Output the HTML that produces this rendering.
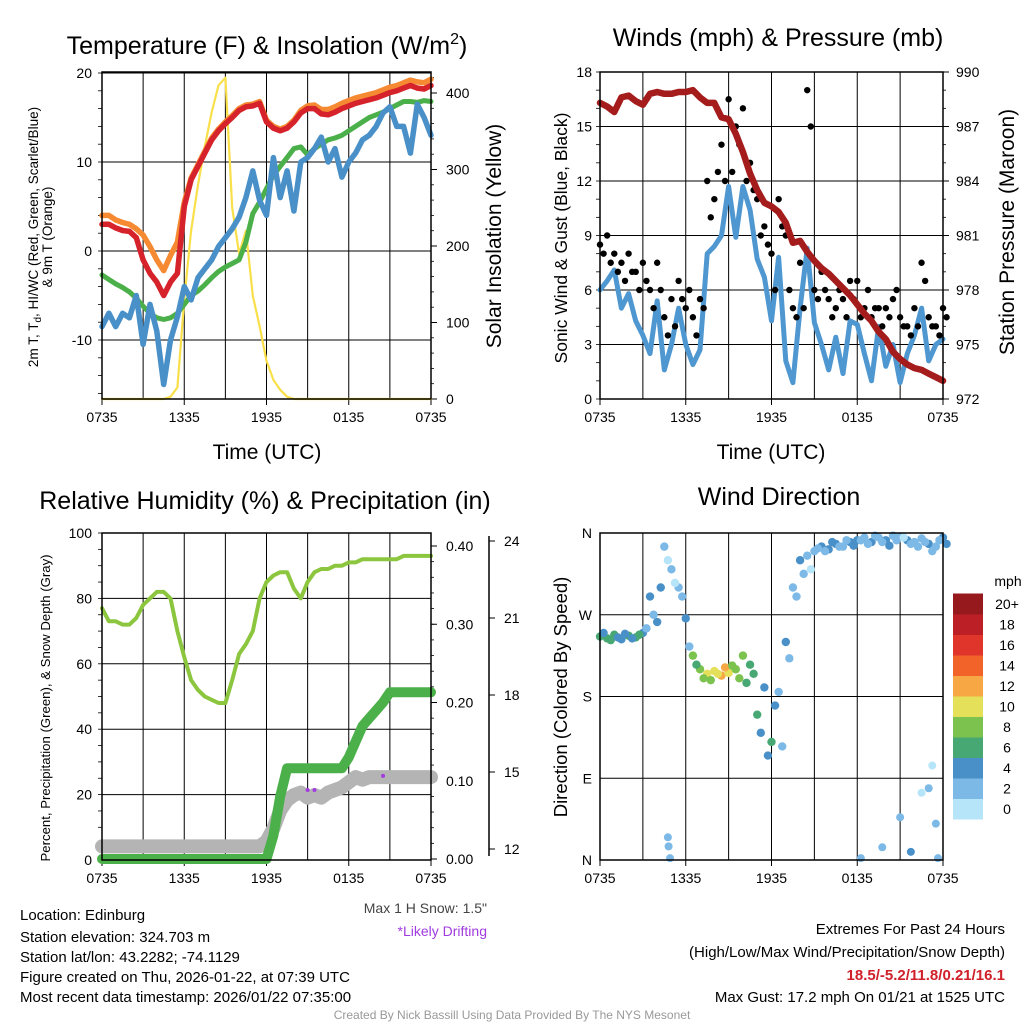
<!DOCTYPE html>
<html><head><meta charset="utf-8"><style>
html,body{margin:0;padding:0;background:#fff}
svg{display:block;font-family:"Liberation Sans",sans-serif}
</style></head><body>
<svg id="root" width="1024" height="1024" viewBox="0 0 1024 1024">
<rect x="0" y="0" width="1024" height="1024" fill="#fff"/>
<g id="p1"></g>
<g id="p2"></g>
<g id="p3"></g>
<g id="p4"></g>
<g font-size="25" text-anchor="middle">
<text x="267" y="54">Temperature (F) &amp; Insolation (W/m<tspan font-size="16" dy="-10">2</tspan><tspan dy="10">)</tspan></text>
<text x="778" y="46">Winds (mph) &amp; Pressure (mb)</text>
<text x="265" y="509">Relative Humidity (%) &amp; Precipitation (in)</text>
<text x="779" y="505">Wind Direction</text>
</g>
<g font-size="21" text-anchor="middle">
<text x="267" y="459">Time (UTC)</text>
<text x="771" y="459">Time (UTC)</text>
<text transform="translate(501,236) rotate(-90)">Solar Insolation (Yellow)</text>
<text transform="translate(567,238) rotate(-90)" font-size="17.5">Sonic Wind &amp; Gust (Blue, Black)</text>
<text transform="translate(1014,232) rotate(-90)">Station Pressure (Maroon)</text>
<text transform="translate(567,697) rotate(-90)" font-size="18.5">Direction (Colored By Speed)</text>
<text transform="translate(50,708) rotate(-90)" font-size="13.2">Percent, Precipitation (Green), &amp; Snow Depth (Gray)</text>
<text transform="translate(38,237) rotate(-90)" font-size="13.5">2m T, T<tspan font-size="10" dy="3">d</tspan><tspan dy="-3">, HI/WC (Red, Green, Scarlet/Blue)</tspan></text>
<text transform="translate(52,237) rotate(-90)" font-size="13.5">&amp; 9m T (Orange)</text>
</g>
<g font-size="15">
<text x="20" y="920">Location: Edinburg</text>
<text x="20" y="942">Station elevation: 324.703 m</text>
<text x="20" y="962">Station lat/lon: 43.2282; -74.1129</text>
<text x="20" y="982">Figure created on Thu, 2026-01-22, at 07:39 UTC</text>
<text x="20" y="1002">Most recent data timestamp: 2026/01/22 07:35:00</text>
<text x="487" y="913" text-anchor="end" fill="#444" font-size="14">Max 1 H Snow: 1.5"</text>
<text x="487" y="936" text-anchor="end" fill="#a23be0" font-size="14">*Likely Drifting</text>
<text x="1005" y="934" text-anchor="end">Extremes For Past 24 Hours</text>
<text x="1005" y="957" text-anchor="end">(High/Low/Max Wind/Precipitation/Snow Depth)</text>
<text x="1005" y="980" text-anchor="end" fill="#d0202a" font-weight="bold">18.5/-5.2/11.8/0.21/16.1</text>
<text x="1005" y="1002" text-anchor="end">Max Gust: 17.2 mph On 01/21 at 1525 UTC</text>
<text x="512" y="1019" text-anchor="middle" fill="#999" font-size="12">Created By Nick Bassill Using Data Provided By The NYS Mesonet</text>
</g>
</svg>
<script>
// ---- data (30-minute steps from 0735 UTC) ----
const timeLabels = ["0735","1335","1935","0135","0735"];
const tempRed = [3,3,2.6,2.3,2.2,1.5,-1,-2.5,-3.5,-5,-3.5,-2.5,5,8,9.5,11,12.5,13.5,14.3,15,15.8,16.2,16.3,16.6,14.5,13.8,13.5,13.8,14.5,15.5,16,16,15.4,15.3,15.6,16,16.3,16.6,16.8,17,17.2,17.5,17.8,18,18.3,18.6,18.3,18.2,18.6];
const tempOrange = [4,4,3.5,3.2,3,2.5,1.8,0.5,-1,-2.2,-0.5,1,5.5,8.2,9.7,11.2,12.7,13.7,14.5,15.2,16,16.4,16.5,16.8,14.7,14,13.7,14,14.7,15.8,16.3,16.4,15.9,15.9,16.2,16.6,16.9,17.2,17.4,17.6,17.8,18.1,18.4,18.6,18.9,19.2,19,18.9,19.3];
const tempDew = [-2.7,-3.2,-3.7,-4.1,-4.6,-5.3,-6.2,-7,-7.5,-7.7,-7.5,-7,-6,-5,-4.5,-3.8,-3,-2.3,-1.8,-1.4,-1,1,4.2,5.5,7,8.5,9.5,10.5,11.5,11.7,10.8,11.5,12,12.5,12.7,13,13.5,14,14.5,15,15.3,15.6,16,16.4,16.8,16.8,16.7,16.9,16.8];
const tempChill = [-8.5,-7,-8.5,-7,-7.5,-5,-10.5,-6,-9,-15,-10,-7.4,-4,-5.5,-3,-2,-1,0.5,1.5,2.5,3.8,6,9,5.7,4,10.5,6,9,4.5,10,10.5,11.5,12.8,10,11.5,8.3,10,11,12.5,13,14,15.5,16.2,14,14,11,16.5,15,13];
const insolation = [0,0,0,0,0,0,0,0,0,0,3,15,130,220,280,330,375,410,420,250,190,220,135,95,50,25,12,3,0,0,0,0,0,0,0,0,0,0,0,0,0,0,0,0,0,0,0,0,0];
const windSpeed = [6,6.5,7.1,5,5.8,4.3,3.5,2.5,5.4,1.6,3,5,3,1.9,2.7,8,8.4,9,11.7,8.9,11.7,10.4,7.7,6.7,4.3,7.8,2.1,0.9,5,8.3,4.2,3,1.6,3.4,1.4,4.3,4.1,2.5,1,4,1.8,3,0.9,2.5,3.5,5,2.1,3,3.3];
const gustA = [8.5,9,8,7.5,8,7,7.5,6,7.5,4.5,5.5,6.5,5,4.5,5.5,12,11,14,16.5,15,16,13,11,9.5,8,11,9,5,7.5,17,6,7,5.5,5,5.5,6.5,6.5,5,4.5,5,5,5.5,4.5,4,5,7.5,4.5,4,5];
const gustB = [8,7.5,7,6.5,7,6,6.5,5,6,3.5,4,5.5,6,3.5,5,10,12.5,12,12.5,14,12,11.5,9,8.5,6,9.5,6,4.5,5,15,5.5,6,4.5,6,4.5,5.5,4.5,6,5,4,4.5,6,4,3.5,4,6.5,4,3.5,4.5];
const pressure = [988.3,988.1,987.8,988.6,988.7,988.4,988.2,988.8,988.9,988.8,988.8,988.9,988.9,989,988.6,988.3,988.3,987.5,987.4,986.6,985.6,984.4,983.5,982.8,982.6,982.3,981.7,980.6,980.7,980.1,979.6,979.2,978.9,978.5,978.1,977.7,977.2,976.7,976.3,975.7,975.3,974.6,974.2,973.9,973.7,973.6,973.4,973.2,973];
const humidity = [77,73,73,72,72,74,78,80,82,82,80,70,62,55,52,50,49,48,48,55,63,66,70,80,85,87,88,88,83,80,85,88,89,89,90,90,91,91,92,92,92,92,92,92,93,93,93,93,93];
const precip = [0,0,0,0,0,0,0,0,0,0,0,0,0,0,0,0,0,0,0,0,0,0,0,0,0,0.03,0.08,0.116,0.116,0.116,0.116,0.116,0.116,0.116,0.116,0.116,0.13,0.15,0.17,0.18,0.19,0.2,0.213,0.213,0.213,0.213,0.213,0.213,0.213];
const snowDepth = [12.1,12.1,12.1,12.1,12.1,12.1,12.1,12.1,12.1,12.1,12.1,12.1,12.1,12.1,12.1,12.1,12.1,12.1,12.1,12.1,12.1,12.1,12.1,12.1,12.3,12.8,13.5,13.9,14.1,14.2,14,14.1,14,14.2,14.3,14.4,14.6,14.8,14.7,14.8,14.8,14.8,14.8,14.8,14.8,14.8,14.8,14.8,14.8];
const windDir = [246,244,248,243,247,245,250,290,262,345,320,300,266,225,210,205,208,203,206,210,225,215,160,190,130,185,240,300,330,335,340,345,342,348,345,350,352,355,350,355,352,357,356,352,350,354,348,345,355];
const windDirB = [250,242,245,249,244,248,255,270,300,330,305,290,235,215,200,198,205,212,214,200,195,205,140,115,170,125,222,290,315,320,343,340,350,345,352,346,352,348,357,350,346,352,355,348,345,350,340,352,348];
const dirSpeed = [6,7,6,5,6,7,4,4,5,2,2,3,4,8,9,10,11,13,10,9,8,7,6,5,6,3,4,3,4,2,3,4,5,4,3,5,4,3,4,3,5,3,2,4,3,3,4,3,5];
const outlierTime = [9.5,9.6,9.8,36.5,39.5,42,43.5,45,46,46.5,47,47.3];
const outlierDir = [25,15,2,2,14,47,9,74,79,104,40,2];
const outlierSpeed = [3,3,3,3,3,2,4,1,3,1,3,3];
const cbLevels = ["0","2","4","6","8","10","12","14","16","18","20+"];
const cbColors = ["#b6e4f8","#7cb9e6","#4a90c8","#47a873","#7cc24e","#e5e05a","#f7a845","#f16329","#e0352a","#bd1f26","#961a1d"];
// ---- helpers ----
const NS="http://www.w3.org/2000/svg";
function mk(parent,tag,attrs,txt){const e=document.createElementNS(NS,tag);for(const k in attrs)e.setAttribute(k,attrs[k]);if(txt!==undefined)e.textContent=txt;parent.appendChild(e);return e;}
function lin(d0,d1,r0,r1){return v=>r0+(v-d0)/(d1-d0)*(r1-r0);}
function pathD(arr,xs,ys){return arr.map((v,i)=>(i?"L":"M")+xs(i).toFixed(1)+","+ys(v).toFixed(1)).join("");}
function speedColor(s){let i=Math.min(10,Math.max(0,Math.floor(s/2)));return cbColors[i];}
function frame(g,x0,y0,x1,y1,nameP){
  const r=mk(g,"rect",{x:x0,y:y0,width:x1-x0,height:y1-y0,fill:"none",stroke:"#000","stroke-width":1.5});
  
  
}
function vgrid(g,x0,x1,y0,y1,nameP){
  const xs=lin(0,8,x0,x1);
  for(let k=1;k<8;k++){const l=mk(g,"line",{x1:xs(k),x2:xs(k),y1:y0,y2:y1,stroke:"#000","stroke-width":1});
    
    }
  timeLabels.forEach((t,i)=>{const x=lin(0,4,x0,x1)(i);
    mk(g,"line",{x1:x,x2:x,y1:y1,y2:y1+6,stroke:"#000"});
    const tx=mk(g,"text",{x:x,y:y1+23,"font-size":14,"text-anchor":"middle"},t);
    
    });
}
function hgrid(g,x0,x1,vals,ys,labels,nameP,lx,anchor){
  vals.forEach((v,i)=>{const y=ys(v);
    const l=mk(g,"line",{x1:x0,x2:x1,y1:y,y2:y,stroke:"#000","stroke-width":1});
    
    
    const t=mk(g,"text",{x:lx,y:y+5,"font-size":14,"text-anchor":anchor},labels[i]);
    
    });
}
function minor(g,x,lo,hi,step,ys,len){
  for(let v=lo;v<=hi+1e-9;v+=step){const y=ys(v);mk(g,"line",{x1:x,x2:x+len,y1:y,y2:y,stroke:"#000","stroke-width":0.8});}
}
function rticks(g,x,vals,ys,labels,nameP,lx){
  vals.forEach((v,i)=>{const y=ys(v);mk(g,"line",{x1:x,x2:x+6,y1:y,y2:y,stroke:"#000"});
    const t=mk(g,"text",{x:lx,y:y+5,"font-size":14,"text-anchor":"start"},labels[i]);
    
    });
}
function series(g,arr,xs,ys,color,w,name){
  const p=mk(g,"path",{d:pathD(arr,xs,ys),fill:"none",stroke:color,"stroke-width":w,"stroke-linejoin":"round","stroke-linecap":"round"});
  
  
}
// ---- panel 1 ----
(function(){
  const g=document.getElementById("p1");const X0=102,X1=431,Y0=72,Y1=399;
  const xs=lin(0,48,X0,X1), yl=lin(20,-10,73,340), yr=lin(0,400,399,93);
  hgrid(g,X0,X1,[20,10,0,-10],yl,["20","10","0","-10"],"temp",92,"end");
  vgrid(g,X0,X1,Y0,Y1,"temp");
  minor(g,X0-4,-16,20,2,yl,4);
  minor(g,X1,0,420,20,yr,3);
  rticks(g,X1,[0,100,200,300,400],yr,["0","100","200","300","400"],"insolation",446);
  series(g,insolation,xs,yr,"#f9e04b",2.2,"insolation-line");
  series(g,tempDew,xs,yl,"#4bb04a",5,"dewpoint-line");
  series(g,tempChill,xs,yl,"#4a90c8",5.5,"windchill-line");
  series(g,tempOrange,xs,yl,"#f68a32",5.5,"temp-9m-line");
  series(g,tempRed,xs,yl,"#d6222a",5.5,"temp-2m-line");
  frame(g,X0,Y0,X1,Y1,"temp");
})();
// ---- panel 2 ----
(function(){
  const g=document.getElementById("p2");const X0=600,X1=943,Y0=72,Y1=399;
  const xs=lin(0,48,X0,X1), yl=lin(0,18,399,72), yr=lin(972,990,399,72);
  hgrid(g,X0,X1,[0,3,6,9,12,15,18],yl,["0","3","6","9","12","15","18"],"wind",592,"end");
  vgrid(g,X0,X1,Y0,Y1,"wind");
  minor(g,X0-4,0,18,1,yl,4);
  minor(g,X1,972,990,1,yr,3);
  rticks(g,X1,[972,975,978,981,984,987,990],yr,["972","975","978","981","984","987","990"],"pressure",956);
  series(g,windSpeed,xs,yl,"#4f97d0",5,"wind-speed-line");
  [gustA,gustB].forEach((arr,k)=>arr.forEach((v,i)=>{
    const c=mk(g,"circle",{cx:xs(i+k*0.5),cy:yl(v),r:3.2,fill:"#000"});
    
    }));
  series(g,pressure,xs,yr,"#a51c1c",6.5,"pressure-line");
  frame(g,X0,Y0,X1,Y1,"wind");
})();
// ---- panel 3 ----
(function(){
  const g=document.getElementById("p3");const X0=102,X1=431,Y0=533,Y1=860;
  const xs=lin(0,48,X0,X1), yl=lin(0,100,860,533), yr=lin(0,0.4,859,546), ys=lin(12,24,849,541);
  hgrid(g,X0,X1,[0,20,40,60,80,100],yl,["0","20","40","60","80","100"],"humidity",92,"end");
  vgrid(g,X0,X1,Y0,Y1,"humidity");
  minor(g,X0-4,0,100,5,yl,4);
  minor(g,X1,0,0.4,0.02,yr,3);
  rticks(g,X1,[0,0.1,0.2,0.3,0.4],yr,["0.00","0.10","0.20","0.30","0.40"],"precip",446);
  const ax=mk(g,"line",{x1:489,x2:489,y1:536,y2:856,stroke:"#000","stroke-width":1.5});
  
  
  rticks(g,489,[12,15,18,21,24],ys,["12","15","18","21","24"],"snow",504);
  series(g,snowDepth,xs,ys,"#b4b4b4",14,"snow-depth-line");
  series(g,precip,xs,yr,"#4bb04a",10,"precip-line");
  series(g,humidity,xs,yl,"#8cc63f",4,"humidity-line");
  [[30,14.3],[31,14.3],[41,14.85]].forEach(p=>{const c=mk(g,"circle",{cx:xs(p[0]),cy:ys(p[1]),r:2,fill:"#a23be0"});
    
    });
  frame(g,X0,Y0,X1,Y1,"humidity");
})();
// ---- panel 4 ----
(function(){
  const g=document.getElementById("p4");const X0=600,X1=943,Y0=533,Y1=860;
  const xs=lin(0,48,X0,X1), yd=lin(0,360,860,533);
  hgrid(g,X0,X1,[0,90,180,270,360],yd,["N","E","S","W","N"],"direction",592,"end");
  vgrid(g,X0,X1,Y0,Y1,"direction");
  [windDir,windDirB].forEach((arr,k)=>arr.forEach((v,i)=>{
    const s=dirSpeed[i]+(k?-0.5:0.5);
    const c=mk(g,"circle",{cx:xs(i+k*0.5),cy:yd(v),r:4.2,fill:speedColor(s)});
    
    }));
  outlierDir.forEach((v,i)=>{
    const c=mk(g,"circle",{cx:xs(outlierTime[i]),cy:yd(v),r:4,fill:speedColor(outlierSpeed[i])});
    
    });
  frame(g,X0,Y0,X1,Y1,"direction");
  const u=mk(g,"text",{x:1008,y:586,"font-size":14,"text-anchor":"middle"},"mph");
  
  
  const bh=20.5;
  cbColors.forEach((c,i)=>{const y=819-(i+1)*bh;
    const r=mk(g,"rect",{x:953,y:y,width:30,height:bh+0.5,fill:c});
    
    
    const t=mk(g,"text",{x:1007,y:y+bh/2+5,"font-size":14,"text-anchor":"middle"},cbLevels[i]);
    
    });
})();
</script>
</body></html>
